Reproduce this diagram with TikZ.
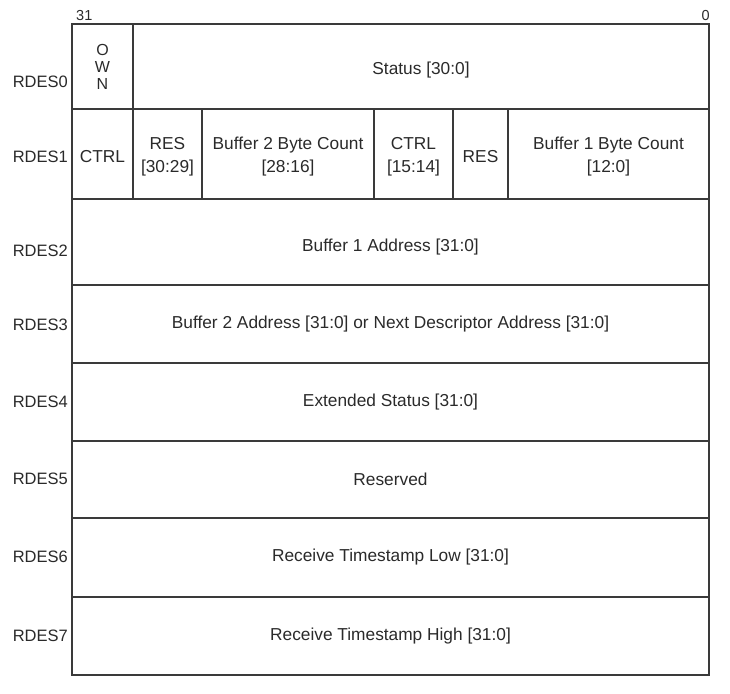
\documentclass[tikz,border=0pt]{standalone}
\usepackage{fontspec}
\setmainfont{Liberation Sans}
\definecolor{linec}{HTML}{3A3A3A}
\definecolor{textc}{HTML}{2A2A2A}
\begin{document}
\begin{tikzpicture}[x=1pt,y=-1pt,
  cell/.style={draw=linec,line width=1.6pt,inner sep=0pt,outer sep=0pt,align=center,text=textc,
    font=\fontsize{17.3}{23}\selectfont},
  txt/.style={inner sep=0pt,align=center,text=textc,font=\fontsize{17.3}{23}\selectfont},
  rowlbl/.style={anchor=east,inner sep=0pt,text=textc,font=\fontsize{16.5}{18}\selectfont},
  bitlbl/.style={inner sep=0pt,text=textc,font=\fontsize{14.5}{16}\selectfont}]
\useasboundingbox (0,0) rectangle (730,693);
% row 0
\node[cell,minimum width=61pt,minimum height=85pt,font=\fontsize{16}{17}\selectfont] (own) at (102.5,66.5) {O\\W\\N};
\node[cell,minimum width=576pt,minimum height=85pt,label={[txt,yshift=-3.5pt]center:Status [30:0]}] (status) at (421,66.5) {};
% row 1
\node[cell,minimum width=61pt,minimum height=90pt,label={[txt,yshift=-3pt]center:CTRL}] (ctrlA) at (102.5,154) {};
\node[cell,minimum width=69pt,minimum height=90pt,label={[txt,yshift=-2.5pt]center:RES\\{}[30:29]}] (resA) at (167.5,154) {};
\node[cell,minimum width=172pt,minimum height=90pt,label={[txt,yshift=-2.5pt]center:Buffer 2 Byte Count\\{}[28:16]}] (bcB) at (288,154) {};
\node[cell,minimum width=79pt,minimum height=90pt,label={[txt,yshift=-2.5pt]center:CTRL\\{}[15:14]}] (ctrlB) at (413.5,154) {};
\node[cell,minimum width=55pt,minimum height=90pt,label={[txt,yshift=-3pt]center:RES}] (resB) at (480.5,154) {};
\node[cell,minimum width=201pt,minimum height=90pt,label={[txt,yshift=-2.5pt]center:Buffer 1 Byte Count\\{}[12:0]}] (bcA) at (608.5,154) {};
% rows 2-7
\node[cell,minimum width=637pt,minimum height=86pt,label={[txt,yshift=-5pt]center:Buffer 1 Address [31:0]}] (r2) at (390.5,242) {};
\node[cell,minimum width=637pt,minimum height=78pt] (r3) at (390.5,324) {Buffer 2 Address [31:0] or Next Descriptor Address [31:0]};
\node[cell,minimum width=637pt,minimum height=78pt] (r4) at (390.5,402) {Extended Status [31:0]};
\node[cell,minimum width=637pt,minimum height=77pt] (r5) at (390.5,479.5) {Reserved};
\node[cell,minimum width=637pt,minimum height=79pt] (r6) at (390.5,557.5) {Receive Timestamp Low [31:0]};
\node[cell,minimum width=637pt,minimum height=78pt] (r7) at (390.5,636) {Receive Timestamp High [31:0]};
% row labels
\node[rowlbl] (l0) at (68,82) {RDES0};
\node[rowlbl] (l1) at (68,157) {RDES1};
\node[rowlbl] (l2) at (68,251) {RDES2};
\node[rowlbl] (l3) at (68,325) {RDES3};
\node[rowlbl] (l4) at (68,402) {RDES4};
\node[rowlbl] (l5) at (68,479) {RDES5};
\node[rowlbl] (l6) at (68,557) {RDES6};
\node[rowlbl] (l7) at (68,636) {RDES7};
% bit labels
\node[bitlbl,anchor=west] (b31) at (76,16) {31};
\node[bitlbl,anchor=east] (b0) at (710,16) {0};
\end{tikzpicture}
\end{document}
